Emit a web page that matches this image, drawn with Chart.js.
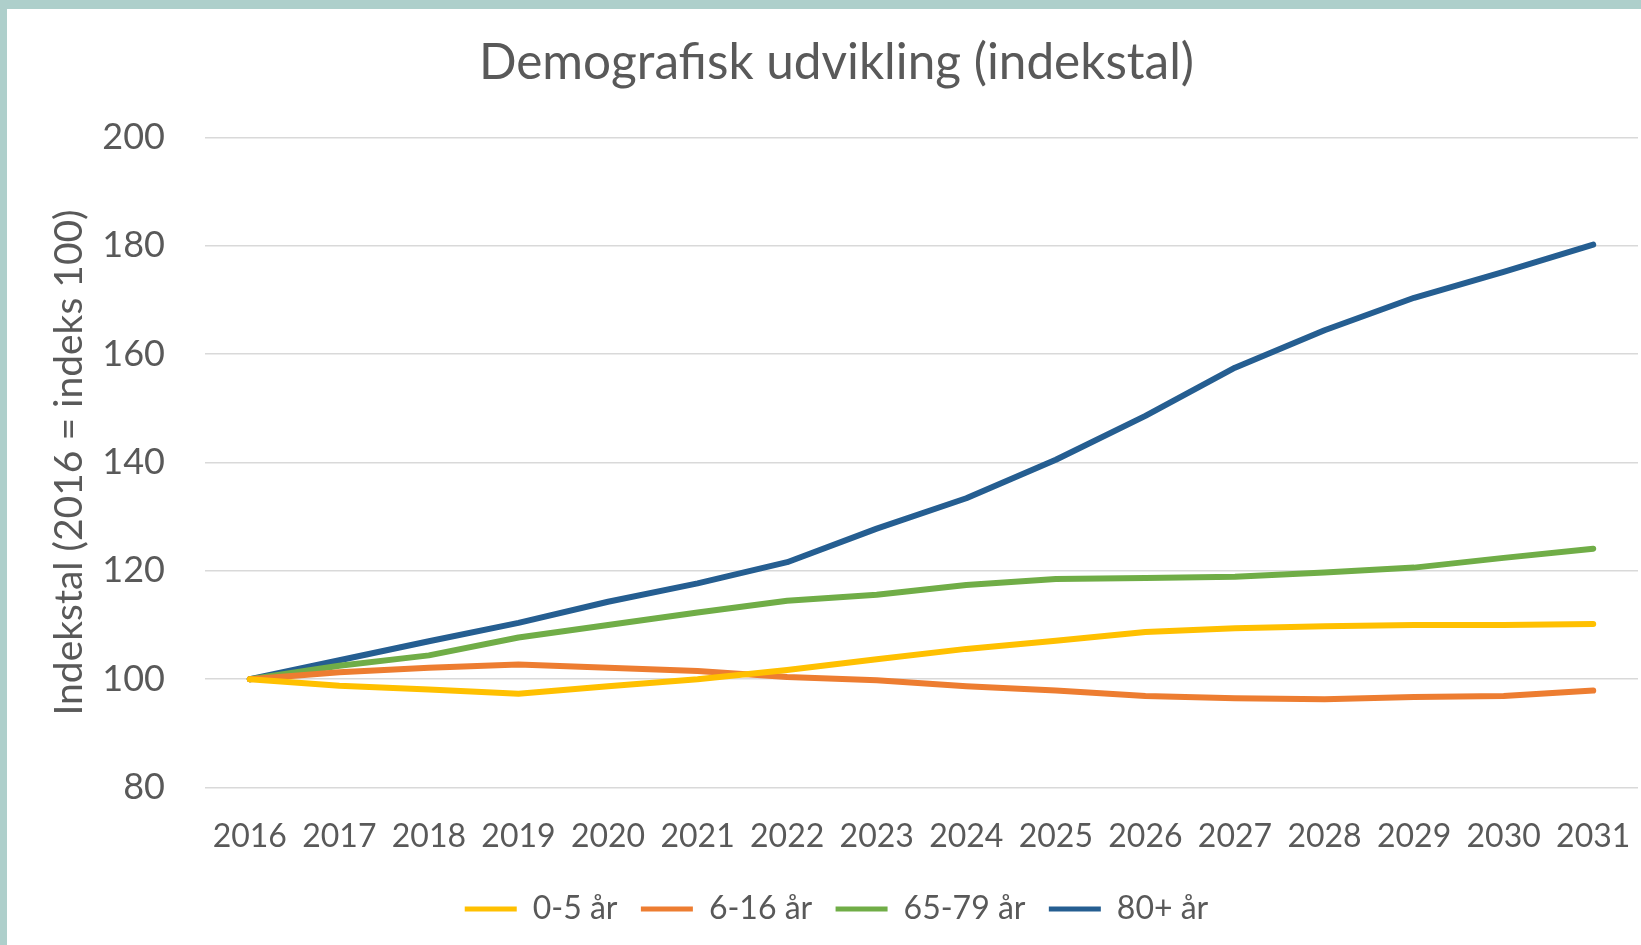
<!DOCTYPE html>
<html>
<head>
<meta charset="utf-8">
<script src="https://cdn.jsdelivr.net/npm/chart.js@4"></script>
<style>
  html, body { margin: 0; padding: 0; }
  body { width: 1641px; height: 945px; background: #AECFCB; position: relative; overflow: hidden; }
  #wrap { position: absolute; left: 7px; top: 9px; width: 1634px; height: 936px; background: #ffffff; }
</style>
</head>
<body>
<div id="wrap"><canvas id="c" width="1634" height="936"></canvas></div>
<script>
const years = ['2016','2017','2018','2019','2020','2021','2022','2023','2024','2025','2026','2027','2028','2029','2030','2031'];
const age0to5 = [100, 98.8, 98.1, 97.3, 98.7, 100, 101.7, 103.7, 105.6, 107.1, 108.7, 109.4, 109.8, 110, 110, 110.2];
const age6to16 = [100, 101.3, 102.1, 102.7, 102.1, 101.5, 100.4, 99.8, 98.7, 97.9, 96.9, 96.5, 96.3, 96.7, 96.9, 97.9];
const age65to79 = [100, 102.5, 104.4, 107.7, 110, 112.3, 114.5, 115.6, 117.4, 118.5, 118.7, 118.9, 119.7, 120.6, 122.4, 124.1];
const age80plus = [100, 103.5, 107, 110.4, 114.3, 117.7, 121.6, 127.8, 133.4, 140.5, 148.6, 157.5, 164.4, 170.4, 175.2, 180.2];
const seriesNames = ['0-5 år', '6-16 år', '65-79 år', '80+ år'];
const yTicks = [80, 100, 120, 140, 160, 180, 200];

const FONT = 'Lato, "Open Sans", sans-serif';
const TXT = '#595959';
const colors = ['#FFC000', '#ED7D31', '#70AD47', '#255E91'];
const allData = [age0to5, age6to16, age65to79, age80plus];

new Chart(document.getElementById('c'), {
  type: 'line',
  data: {
    labels: years,
    datasets: allData.map((d, i) => ({
      label: seriesNames[i],
      data: d,
      borderColor: colors[i],
      backgroundColor: colors[i],
      borderWidth: 6,
      pointRadius: 0,
      tension: 0,
      borderCapStyle: 'round',
      borderJoinStyle: 'round'
    }))
  },
  options: {
    responsive: false,
    animation: false,
    devicePixelRatio: 1,
    layout: { padding: { left: 28, right: 3, top: 0, bottom: 10 } },
    plugins: {
      title: {
        display: true,
        text: 'Demografisk udvikling (indekstal)',
        color: TXT,
        font: { family: FONT, size: 49.5, weight: 'normal' },
        padding: { top: 24, bottom: 45 }
      },
      legend: {
        position: 'bottom',
        labels: {
          color: TXT,
          font: { family: FONT, size: 32 },
          boxWidth: 52,
          boxHeight: 5,
          padding: 7,
          generateLabels: (chart) => chart.data.datasets.map((ds, i) => ({
            text: ds.label + (i < chart.data.datasets.length - 1 ? '  ' : ''),
            fillStyle: ds.borderColor,
            strokeStyle: ds.borderColor,
            lineWidth: 0,
            fontColor: TXT,
            datasetIndex: i
          }))
        }
      },
      tooltip: { enabled: false }
    },
    scales: {
      x: {
        offset: true,
        afterFit: (scale) => { scale.paddingLeft = 0; scale.paddingRight = 0; },
        grid: { display: false, drawTicks: false },
        border: { display: false },
        ticks: { color: TXT, font: { family: FONT, size: 32 }, padding: 30, maxRotation: 0, autoSkip: false }
      },
      y: {
        min: 80,
        max: 200,
        afterBuildTicks: (scale) => { scale.ticks = yTicks.map(v => ({ value: v })); },
        afterFit: (scale) => { scale.width = 170; },
        grid: { color: '#D9D9D9', lineWidth: 1.5, drawTicks: false },
        border: { display: false },
        ticks: { color: TXT, font: { family: FONT, size: 36 }, padding: 40 },
        title: {
          display: true,
          text: 'Indekstal (2016 = indeks 100)',
          color: TXT,
          font: { family: FONT, size: 39 },
          padding: { top: 11, bottom: 0 }
        }
      }
    }
  }
});
</script>
</body>
</html>
